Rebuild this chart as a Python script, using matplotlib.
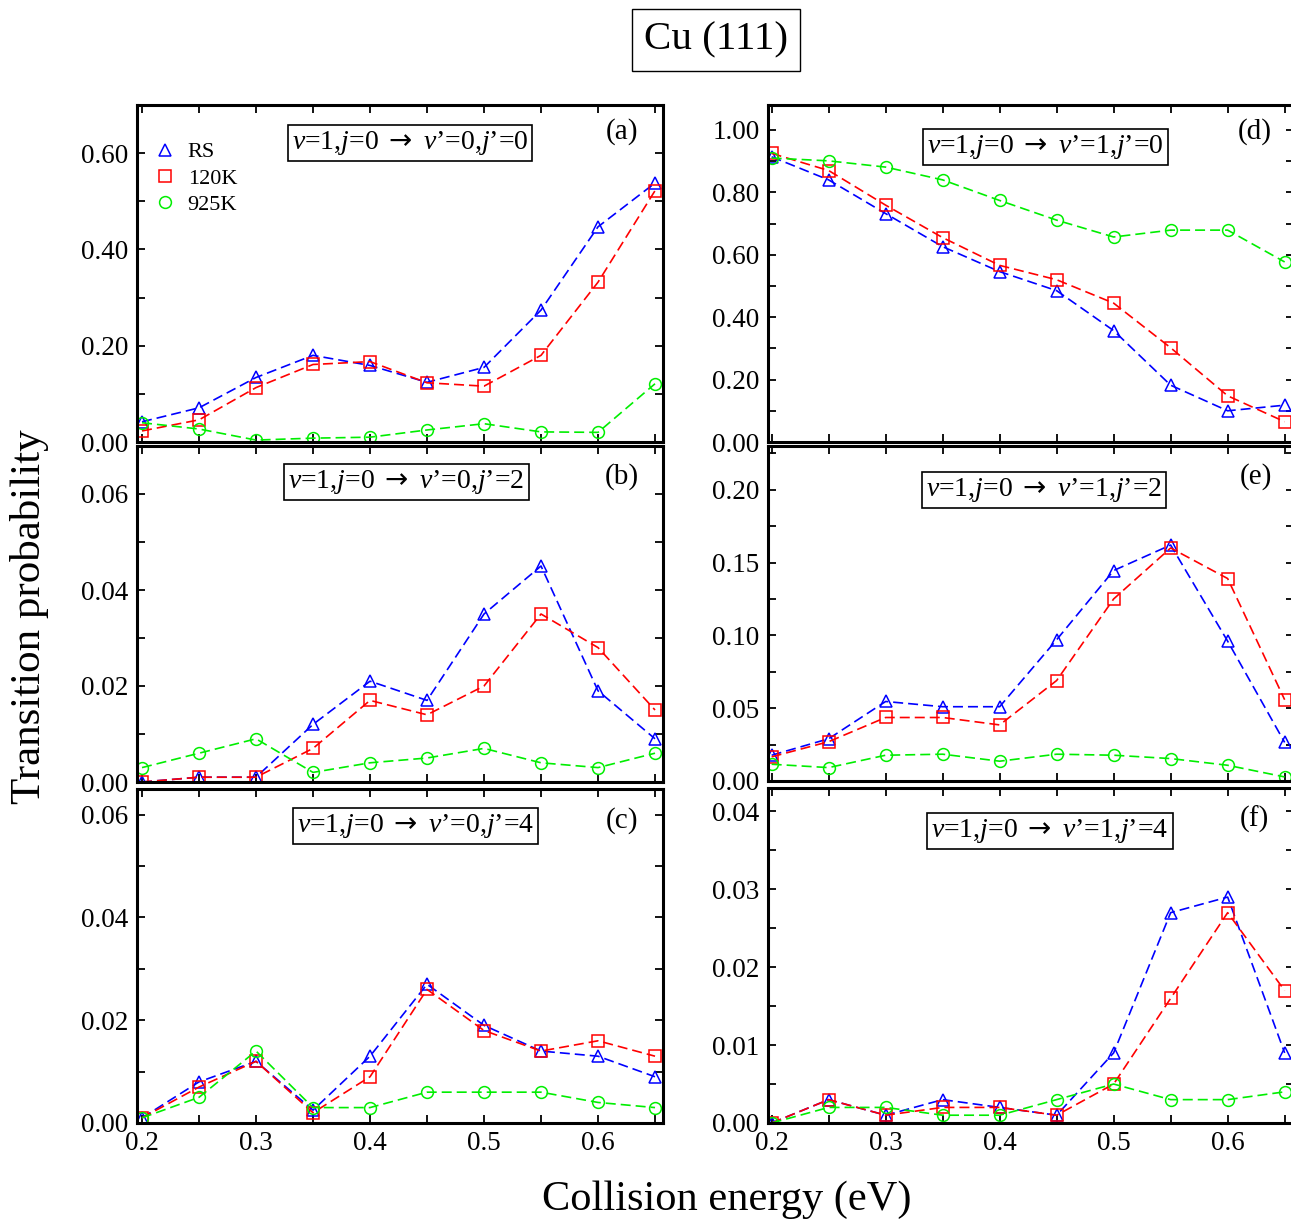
import matplotlib
matplotlib.use("Agg")
import matplotlib.pyplot as plt
from matplotlib.ticker import MultipleLocator, FormatStrFormatter

plt.rcParams['font.family'] = ['Liberation Serif', 'DejaVu Serif']
plt.rcParams['mathtext.fontset'] = 'custom'
plt.rcParams['mathtext.it'] = 'Liberation Serif:italic'
plt.rcParams['mathtext.rm'] = 'Liberation Serif'
plt.rcParams['mathtext.sf'] = 'DejaVu Sans'

# collision energy (eV)
energy = [0.20, 0.25, 0.30, 0.35, 0.40, 0.45, 0.50, 0.55, 0.60, 0.65]

# (a) v=1,j=0 -> v'=0,j'=0
a_rs = [0.042, 0.071, 0.134, 0.180, 0.159, 0.124, 0.155, 0.274, 0.447, 0.538]
a_120 = [0.023, 0.046, 0.113, 0.161, 0.167, 0.123, 0.116, 0.180, 0.332, 0.522]
a_925 = [0.040, 0.027, 0.004, 0.008, 0.010, 0.025, 0.038, 0.021, 0.020, 0.121]

# (b) v=1,j=0 -> v'=0,j'=2
b_rs = [0.000, 0.001, 0.001, 0.012, 0.021, 0.017, 0.035, 0.045, 0.019, 0.009]
b_120 = [0.000, 0.001, 0.001, 0.007, 0.017, 0.014, 0.020, 0.035, 0.028, 0.015]
b_925 = [0.003, 0.006, 0.009, 0.002, 0.004, 0.005, 0.007, 0.004, 0.003, 0.006]

# (c) v=1,j=0 -> v'=0,j'=4
c_rs = [0.001, 0.008, 0.012, 0.0025, 0.013, 0.027, 0.019, 0.014, 0.013, 0.009]
c_120 = [0.001, 0.007, 0.012, 0.002, 0.009, 0.026, 0.018, 0.014, 0.016, 0.013]
c_925 = [0.001, 0.005, 0.014, 0.003, 0.003, 0.006, 0.006, 0.006, 0.004, 0.003]

# (d) v=1,j=0 -> v'=1,j'=0
d_rs = [0.914, 0.840, 0.732, 0.626, 0.546, 0.485, 0.357, 0.182, 0.100, 0.118]
d_120 = [0.925, 0.870, 0.759, 0.655, 0.566, 0.520, 0.445, 0.302, 0.148, 0.065]
d_925 = [0.910, 0.901, 0.881, 0.840, 0.774, 0.711, 0.657, 0.679, 0.679, 0.577]

# (e) v=1,j=0 -> v'=1,j'=2
e_rs = [0.0177, 0.029, 0.0546, 0.051, 0.051, 0.097, 0.1445, 0.162, 0.096, 0.0265]
e_120 = [0.0166, 0.027, 0.0436, 0.0436, 0.0385, 0.069, 0.125, 0.160, 0.139, 0.0558]
e_925 = [0.0115, 0.0092, 0.0177, 0.0184, 0.0136, 0.0184, 0.0177, 0.0154, 0.0108, 0.0028]

# (f) v=1,j=0 -> v'=1,j'=4
f_rs = [0.000, 0.003, 0.001, 0.003, 0.002, 0.001, 0.009, 0.027, 0.029, 0.009]
f_120 = [0.000, 0.003, 0.001, 0.002, 0.002, 0.001, 0.005, 0.016, 0.027, 0.017]
f_925 = [0.000, 0.002, 0.002, 0.001, 0.001, 0.003, 0.005, 0.003, 0.003, 0.004]

series_labels = ["RS", "120K", "925K"]

transitions = [
    r"$v$=1,$j$=0 $\mathsf{\rightarrow}$ $v$’=0,$j$’=0",
    r"$v$=1,$j$=0 $\mathsf{\rightarrow}$ $v$’=0,$j$’=2",
    r"$v$=1,$j$=0 $\mathsf{\rightarrow}$ $v$’=0,$j$’=4",
    r"$v$=1,$j$=0 $\mathsf{\rightarrow}$ $v$’=1,$j$’=0",
    r"$v$=1,$j$=0 $\mathsf{\rightarrow}$ $v$’=1,$j$’=2",
    r"$v$=1,$j$=0 $\mathsf{\rightarrow}$ $v$’=1,$j$’=4",
]
panel_names = ["(a)", "(b)", "(c)", "(d)", "(e)", "(f)"]

W, H = 1291, 1226
fig = plt.figure(figsize=(W / 100, H / 100), dpi=100)


def px_axes(x0, top, bottom, width=526):
    return fig.add_axes([x0 / W, 1 - bottom / H, width / W, (bottom - top) / H])


panels = [
    # data, axes rect (left, top, bottom), ylim, major, minor, xlim, box pos, label pos
    ((a_rs, a_120, a_925), (137, 105, 442), 0.70, 0.2, 0.1, (0.1956, 0.657), (0.519, 0.887), (0.922, 0.92)),
    ((b_rs, b_120, b_925), (137, 446, 782), 0.070, 0.02, 0.01, (0.1956, 0.657), (0.512, 0.893), (0.922, 0.91)),
    ((c_rs, c_120, c_925), (137, 789, 1123), 0.065, 0.02, 0.01, (0.1956, 0.657), (0.529, 0.889), (0.922, 0.907)),
    ((d_rs, d_120, d_925), (768, 105, 442), 1.08, 0.2, 0.1, (0.1968, 0.6582), (0.527, 0.875), (0.926, 0.92)),
    ((e_rs, e_120, e_925), (768, 446, 781), 0.23, 0.05, 0.025, (0.1968, 0.6582), (0.525, 0.869), (0.928, 0.91)),
    ((f_rs, f_120, f_925), (768, 788, 1123), 0.043, 0.01, 0.005, (0.1968, 0.6582), (0.536, 0.872), (0.924, 0.905)),
]

styles = [("^", "#0000ff"), ("s", "#ff0000"), ("o", "#00ee00")]

for i, (data, rect, ytop, major, minor, xlim, boxpos, labpos) in enumerate(panels):
    ax = px_axes(*rect)
    for vals, (mk, col), lab in zip(data, styles, series_labels):
        ax.plot(energy, vals, linestyle=(0, (6, 3)), color=col, linewidth=1.2,
                marker=mk, markersize=8.5 if mk != "s" else 8, markerfacecolor="none",
                markeredgecolor=col, markeredgewidth=1.1, label=lab)
    ax.set_xlim(*xlim)
    ax.set_ylim(0, ytop)
    ax.xaxis.set_major_locator(MultipleLocator(0.1))
    ax.xaxis.set_minor_locator(MultipleLocator(0.05))
    ax.yaxis.set_major_locator(MultipleLocator(major))
    ax.yaxis.set_minor_locator(MultipleLocator(minor))
    ax.yaxis.set_major_formatter(FormatStrFormatter("%.2f"))
    ax.xaxis.set_major_formatter(FormatStrFormatter("%.1f"))
    ax.tick_params(which="both", direction="in", top=True, right=True, length=6, width=1.3,
                   labelsize=19.5, pad=6)
    if i not in (2, 5):
        ax.tick_params(axis="x", labelbottom=False)
    for sp in ax.spines.values():
        sp.set_linewidth(2.2)
    ax.text(boxpos[0], boxpos[1], transitions[i], transform=ax.transAxes, ha="center", va="center",
            fontsize=20, bbox=dict(boxstyle="square,pad=0.15", facecolor="white", edgecolor="black",
                                   linewidth=1.2))
    ax.text(labpos[0], labpos[1], panel_names[i], transform=ax.transAxes, ha="center", va="center",
            fontsize=21)
    if i == 0:
        leg = ax.legend(loc="upper left", bbox_to_anchor=(-0.005, 0.95), frameon=False, fontsize=16,
                        handlelength=1.0, handletextpad=0.5, labelspacing=0.25)
        for line in leg.get_lines():
            line.set_linestyle("none")

fig.text(716 / W, 1 - 40 / H, "Cu (111)", ha="center", va="center", fontsize=29.5,
         bbox=dict(boxstyle="square,pad=0.3", facecolor="white", edgecolor="black", linewidth=1.0))
fig.text(30 / W, 1 - 617 / H, "Transition probability", rotation=90, ha="center", va="center",
         fontsize=31)
fig.text(727 / W, 1 - 1200 / H, "Collision energy (eV)", ha="center", va="center", fontsize=30.5)

fig.savefig("out.png", dpi=100)
